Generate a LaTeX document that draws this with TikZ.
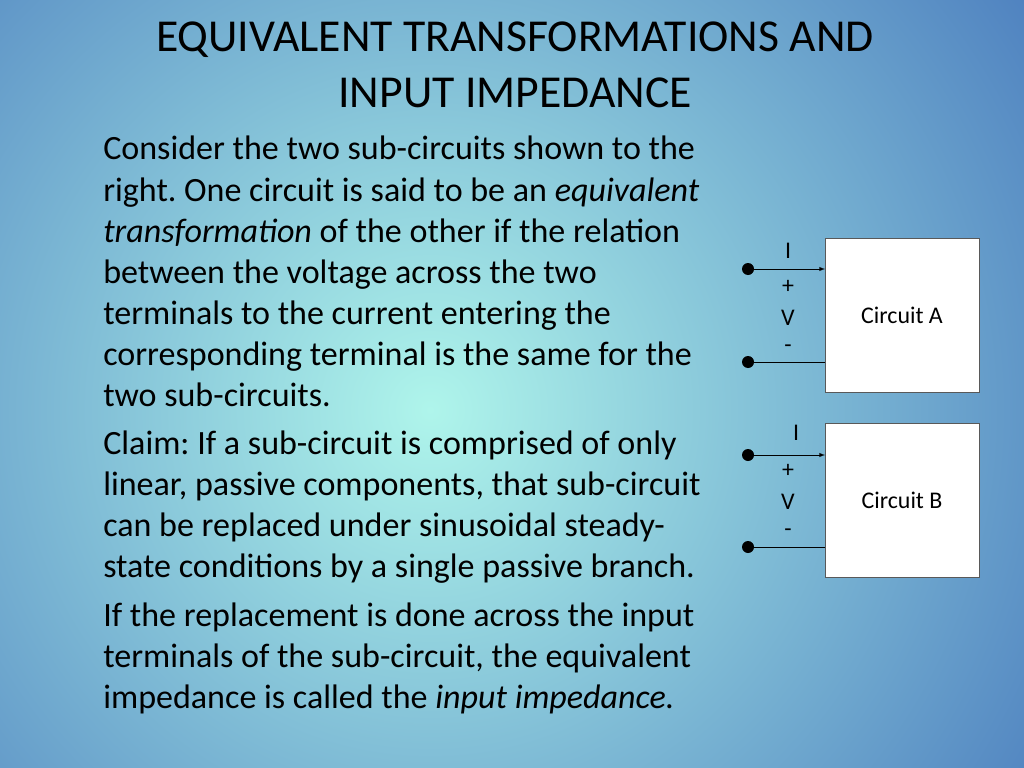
\documentclass[tikz,border=0pt]{standalone}
\usepackage{fontspec}
\setmainfont{Carlito}
\usetikzlibrary{arrows}
\frenchspacing
\begin{document}
\begin{tikzpicture}[x=0.025cm,y=-0.025cm]
	\tikzstyle{line} = [anchor=base west, inner sep=0pt, font=\fontsize{24.2}{28}\selectfont]
	\tikzstyle{box} = [rectangle, draw=gray!70!black, fill=white, minimum width=3.85cm, minimum height=3.85cm, font=\fontsize{17}{19}\selectfont]
	\tikzstyle{lbl} = [inner sep=0pt, font=\fontsize{17}{19}\selectfont]
	\tikzstyle{arrow} = [->,>=latex]
	\begin{scope}
	\clip (0,0) rectangle (1024,768);
	\shade[inner color={rgb,255:red,175;green,245;blue,235}, outer color={rgb,255:red,75;green,125;blue,190}] (430,410) circle (760);
	\end{scope}
	\node (title1) [font=\fontsize{32.5}{36}\selectfont] at (515,40) {EQUIVALENT TRANSFORMATIONS AND};
	\node (title2) [font=\fontsize{32.5}{36}\selectfont] at (515,93) {INPUT IMPEDANCE};
	\node (l1) [line] at (103,160) {Consider the two sub-circuits shown to the};
	\node (l2) [line] at (103,201) {right. One circuit is said to be an \emph{equivalent}};
	\node (l3) [line] at (103,242) {\emph{transformation} of the other if the relation};
	\node (l4) [line] at (103,283) {between the voltage across the two};
	\node (l5) [line] at (103,324) {terminals to the current entering the};
	\node (l6) [line] at (103,365) {corresponding terminal is the same for the};
	\node (l7) [line] at (103,406) {two sub-circuits.};
	\node (l8) [line] at (103,454) {Claim: If a sub-circuit is comprised of only};
	\node (l9) [line] at (103,495) {linear, passive components, that sub-circuit};
	\node (l10) [line] at (103,536) {can be replaced under sinusoidal steady-};
	\node (l11) [line] at (103,577) {state conditions by a single passive branch.};
	\node (l12) [line] at (103,626) {If the replacement is done across the input};
	\node (l13) [line] at (103,667) {terminals of the sub-circuit, the equivalent};
	\node (l14) [line] at (103,708) {impedance is called the \emph{input impedance.}};
	% circuit A
	\node (circA) [box] at (902,315.5) {Circuit A};
	\coordinate (topA) at (825,269);
	\coordinate (botA) at (825,362);
	\fill (748,269) circle (0.15cm) coordinate (tA);
	\fill (748,362) circle (0.15cm) coordinate (bA);
	\draw [arrow] (tA) -- (topA);
	\draw (bA) -- (botA);
	\node (iA) [lbl] at (788,251) {I};
	\node (pA) [lbl] at (788,287) {+};
	\node (vA) [lbl] at (788,318) {V};
	\node (mA) [lbl] at (788,349) {-};
	% circuit B
	\node (circB) [box] at (902,500) {Circuit B};
	\coordinate (topB) at (825,455);
	\coordinate (botB) at (825,547);
	\fill (748,455) circle (0.15cm) coordinate (tB);
	\fill (748,547) circle (0.15cm) coordinate (bB);
	\draw [arrow] (tB) -- (topB);
	\draw (bB) -- (botB);
	\node (iB) [lbl] at (796,433) {I};
	\node (pB) [lbl] at (788,471) {+};
	\node (vB) [lbl] at (788,502) {V};
	\node (mB) [lbl] at (788,533) {-};
\end{tikzpicture}
\end{document}
